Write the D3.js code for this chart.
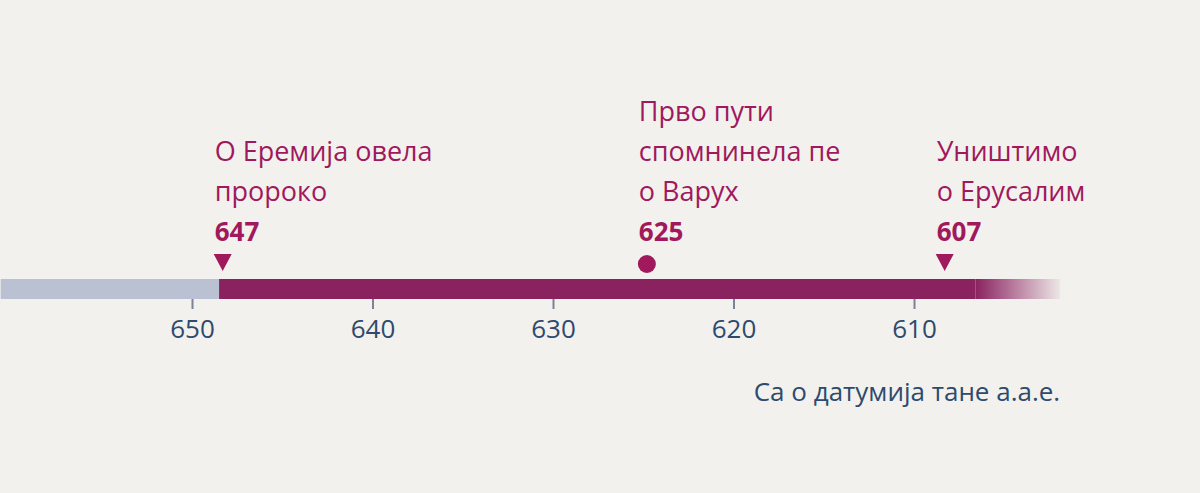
<!DOCTYPE html>
<html><head><meta charset="utf-8">
<script src="https://cdn.jsdelivr.net/npm/d3@7"></script>
<style>body{margin:0;background:#f2f1ee;}svg{display:block;font-family:"Open Sans","Noto Sans",sans-serif;}</style>
</head><body><svg width="1200" height="493"></svg>
<script>
const tickValues = [650, 640, 630, 620, 610];
const barStart = 660.6, eraStart = 648.5, fadeStart = 606.6, barEnd = 601.9;
const eventYears = ["647", "625", "607"];
const eventAt = [648.3, 624.8, 608.3];
const eventKind = ["triangle", "circle", "triangle"];
const eventText = [["О Еремија овела", "пророко"], ["Прво пути", "спомнинела пе", "о Варух"], ["Уништимо", "о Ерусалим"]];
const caption = "Са о датумија тане а.а.е.";

const svg = d3.select("svg");
const x = d3.scaleLinear().domain([650, 610]).range([192, 914]);
const purple = "#8b2260", label = "#a0195c", axisCol = "#2e4a6d";
const defs = svg.append("defs");
const g = defs.append("linearGradient").attr("id","fade").attr("gradientUnits","userSpaceOnUse")
  .attr("x1", x(fadeStart)).attr("x2", x(barEnd));
g.append("stop").attr("offset",0).attr("stop-color",purple).attr("stop-opacity",1);
g.append("stop").attr("offset",1).attr("stop-color",purple).attr("stop-opacity",0.05);

const y0 = 279, h = 20;
svg.append("rect").attr("x", x(barStart)).attr("y", y0).attr("width", x(eraStart)-x(barStart)).attr("height", h).attr("fill","#b9c1d3");
svg.append("rect").attr("x", x(eraStart)).attr("y", y0).attr("width", x(fadeStart)-x(eraStart)).attr("height", h).attr("fill",purple);
svg.append("rect").attr("x", x(fadeStart)).attr("y", y0).attr("width", x(barEnd)-x(fadeStart)).attr("height", h).attr("fill","url(#fade)");

const ax = svg.append("g").attr("transform",`translate(0,${y0+h})`)
  .call(d3.axisBottom(x).tickValues(tickValues).tickSize(10).tickPadding(10).tickFormat(d3.format("d")));
ax.attr("font-family", null).attr("font-size", null);
ax.select(".domain").remove();
ax.selectAll(".tick line").attr("stroke","#7b8497").attr("stroke-width",2);
ax.selectAll(".tick text").attr("fill",axisCol).attr("font-size",26).attr("dy","0.72em");

svg.append("text").attr("x", x(barEnd)).attr("y", 401).attr("text-anchor","end")
  .attr("fill",axisCol).attr("font-size",26).text(caption);

eventAt.forEach((v,i) => {
  const cx = x(v);
  if (eventKind[i] === "circle") svg.append("circle").attr("cx",cx).attr("cy",264).attr("r",9).attr("fill",label);
  else svg.append("path").attr("d",`M${cx-9},254 L${cx+9},254 L${cx},271 Z`).attr("fill",label);
  const lx = cx - 8;
  svg.append("text").attr("x",lx).attr("y",241).attr("fill",label).attr("font-size",26).attr("font-weight","bold").text(eventYears[i]);
  const lines = eventText[i];
  lines.forEach((t,j) => {
    svg.append("text").attr("x",lx).attr("y",241 - 40*(lines.length - j)).attr("fill",label).attr("font-size",27).text(t);
  });
});
</script></body></html>
